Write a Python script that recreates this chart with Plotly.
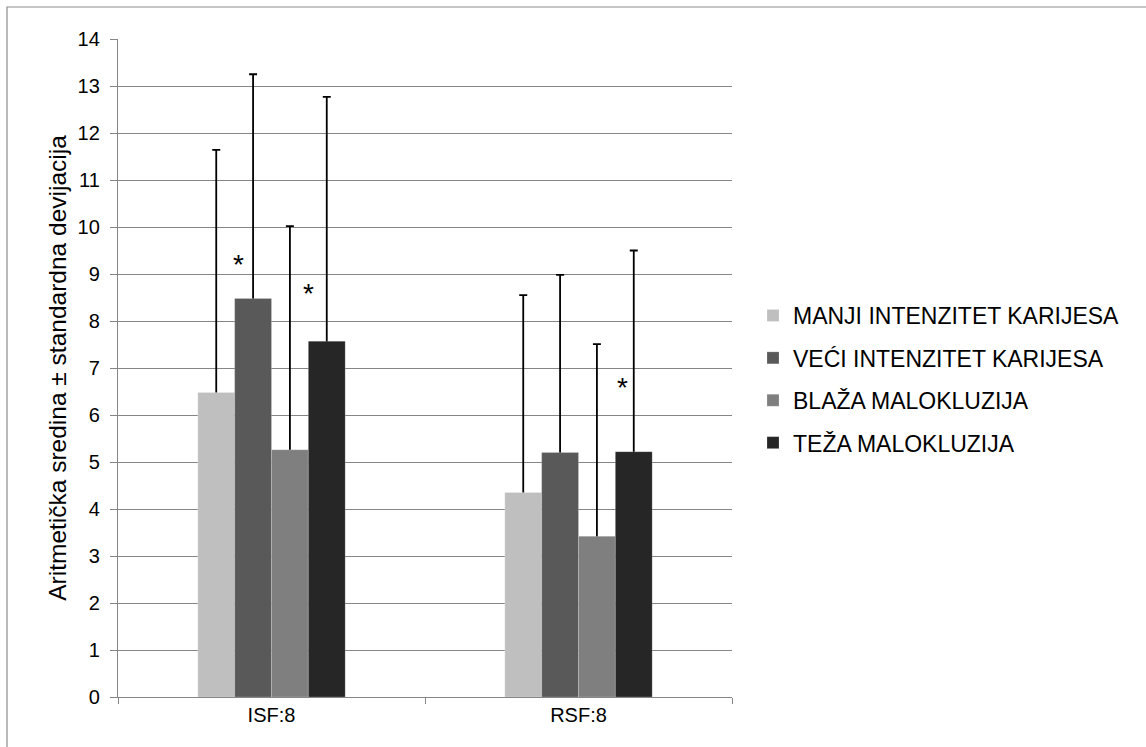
import plotly.graph_objects as go

categories = ["ISF:8", "RSF:8"]
series_names = ["MANJI INTENZITET KARIJESA", "VEĆI INTENZITET KARIJESA",
                "BLAŽA MALOKLUZIJA", "TEŽA MALOKLUZIJA"]
manji_mean = [6.48, 4.35]
manji_sd = [5.16, 4.20]
veci_mean = [8.48, 5.20]
veci_sd = [4.77, 3.78]
blaza_mean = [5.26, 3.42]
blaza_sd = [4.76, 4.09]
teza_mean = [7.57, 5.22]
teza_sd = [5.20, 4.28]
colors = ["#BFBFBF", "#595959", "#7F7F7F", "#262626"]

# significance markers: category index, offset within group, y value
star_cat = [0, 0, 1]
star_off = [-0.109, 0.122, 0.144]
star_y = [9.26, 8.65, 6.65]

y_ticks = list(range(0, 15))

FONT = "Liberation Sans, Arial, sans-serif"

means = [manji_mean, veci_mean, blaza_mean, teza_mean]
sds = [manji_sd, veci_sd, blaza_sd, teza_sd]

fig = go.Figure()
# error bars (upper only) on transparent bars in the base layer; the lower cap is
# tucked inside the bar and hidden by the visible bars drawn on the overlay axis
for i, name in enumerate(series_names):
    fig.add_trace(go.Bar(
        name=name, x=categories, y=means[i], offsetgroup=str(i), yaxis="y",
        showlegend=False, hoverinfo="skip",
        marker=dict(color="rgba(0,0,0,0)", line=dict(width=0)),
        error_y=dict(type="data", array=sds[i], arrayminus=[0.06] * len(sds[i]),
                     symmetric=False, color="#000000", thickness=1.8, width=4),
    ))
for i, name in enumerate(series_names):
    fig.add_trace(go.Bar(
        name=name, x=categories, y=means[i], offsetgroup=str(i), yaxis="y2",
        legendgroup=f"g{i}",
        marker=dict(color=colors[i], line=dict(color="rgba(255,255,255,0.25)", width=0.8)),
    ))

for c, o, yv in zip(star_cat, star_off, star_y):
    fig.add_annotation(x=c + o, y=yv, xref="x", yref="y", text="*",
                       showarrow=False, font=dict(family=FONT, size=28, color="#000"),
                       yanchor="middle", xanchor="center", yshift=-3)

L, R, T, B = 118, 732, 39, 697
W, H = 1146, 747

def px_x(p):
    return (p - L) / (R - L)

def px_y(p):
    return (B - p) / (B - T)

# outer chart frame
fig.add_shape(type="rect", xref="paper", yref="paper",
              x0=px_x(7), x1=px_x(W + 20), y0=px_y(H + 20), y1=px_y(7),
              line=dict(color="#8C8C8C", width=1.2), fillcolor="rgba(0,0,0,0)", layer="below")

fig.update_layout(
    width=W, height=H,
    margin=dict(l=L, r=W - R, t=T, b=H - B, autoexpand=False),
    paper_bgcolor="white", plot_bgcolor="white",
    barmode="group", bargap=0.52, bargroupgap=0,
    font=dict(family=FONT, size=20, color="#000"),
    showlegend=True,
    legend=dict(x=px_x(753), y=px_y(294), xanchor="left", yanchor="top",
                traceorder="grouped", tracegroupgap=9.5,
                font=dict(family=FONT, size=23, color="#000"),
                bgcolor="rgba(0,0,0,0)"),
    xaxis=dict(type="category", showline=True, linecolor="#868686", linewidth=1.3,
               ticks="outside", tickson="boundaries", ticklen=6, tickcolor="#868686",
               tickwidth=1.3, showgrid=False, tickfont=dict(size=20), range=[-0.5, 1.5]),
    yaxis=dict(range=[0, 14], tickvals=y_ticks, showline=True, linecolor="#868686",
               linewidth=1.3, ticks="outside", ticklen=7, tickcolor="#868686", tickwidth=1.3,
               showgrid=True, gridcolor="#868686", gridwidth=1.3, zeroline=False,
               ticklabelstandoff=6, tickfont=dict(size=20),
               title=dict(text="Aritmetička sredina ± standardna devijacija",
                          font=dict(size=24.5), standoff=4)),
    yaxis2=dict(range=[0, 14], overlaying="y", visible=False, showgrid=False),
)

fig.write_html("out.html")
